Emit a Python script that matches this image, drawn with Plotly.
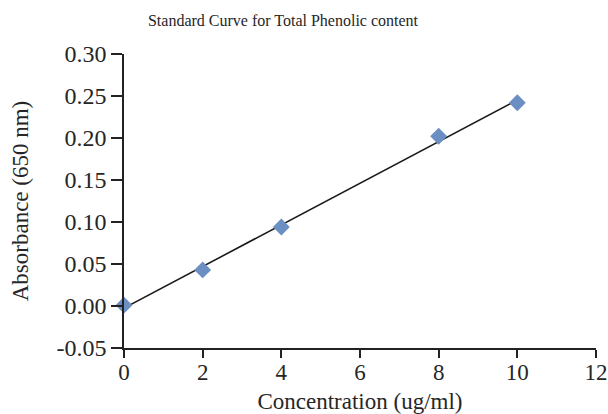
import numpy as np
import plotly.graph_objects as go

concentration = [0, 2, 4, 8, 10]
absorbance = [0.001, 0.043, 0.094, 0.202, 0.242]
x_ticks = [0, 2, 4, 6, 8, 10, 12]
y_ticks = [-0.05, 0.0, 0.05, 0.10, 0.15, 0.20, 0.25, 0.30]

slope, intercept = np.polyfit(concentration, absorbance, 1)
fit_x = [min(concentration), max(concentration)]
fit_y = [slope * v + intercept for v in fit_x]

font_family = "Liberation Serif, Times New Roman, serif"
txt = "#262626"

fig = go.Figure()
fig.add_trace(go.Scatter(x=fit_x, y=fit_y, mode="lines",
                         line=dict(color="#1a1a1a", width=1.6),
                         showlegend=False, hoverinfo="skip"))
fig.add_trace(go.Scatter(x=concentration, y=absorbance, mode="markers",
                         marker=dict(symbol="diamond", size=13, color="#6b8fc2",
                                     line=dict(width=0)),
                         showlegend=False, cliponaxis=False))

fig.update_layout(
    width=608, height=414,
    margin=dict(l=124, r=12, t=54, b=66, autoexpand=False),
    paper_bgcolor="white", plot_bgcolor="white",
    font=dict(family=font_family, color=txt),
    title=dict(text="Standard Curve for Total Phenolic content",
               x=283 / 608, xanchor="center", xref="container",
               y=0.951, yanchor="middle", yref="container",
               font=dict(size=16, family=font_family, color=txt)),
    xaxis=dict(range=[0, 12], tickvals=x_ticks, ticktext=[str(v) for v in x_ticks],
               automargin=False,
               showgrid=False, zeroline=False, showline=True, linecolor="#222",
               linewidth=1.6, ticks="outside", ticklen=8, tickwidth=1.6, tickcolor="#222",
               ticklabelstandoff=-5,
               tickfont=dict(size=23, family=font_family, color=txt),
               title=dict(text="Concentration (ug/ml)", standoff=8,
                          font=dict(size=23, family=font_family, color=txt))),
    yaxis=dict(range=[-0.05, 0.30], tickvals=y_ticks,
               ticktext=["%.2f" % v for v in y_ticks],
               automargin=False,
               showgrid=False, zeroline=False, showline=True, linecolor="#222",
               linewidth=1.6, ticks="outside", ticklen=11, tickwidth=1.6, tickcolor="#222",
               tickfont=dict(size=24, family=font_family, color=txt),
               title=dict(text="Absorbance (650 nm)", standoff=21,
                          font=dict(size=23, family=font_family, color=txt))),
)

fig.write_html("out.html")
